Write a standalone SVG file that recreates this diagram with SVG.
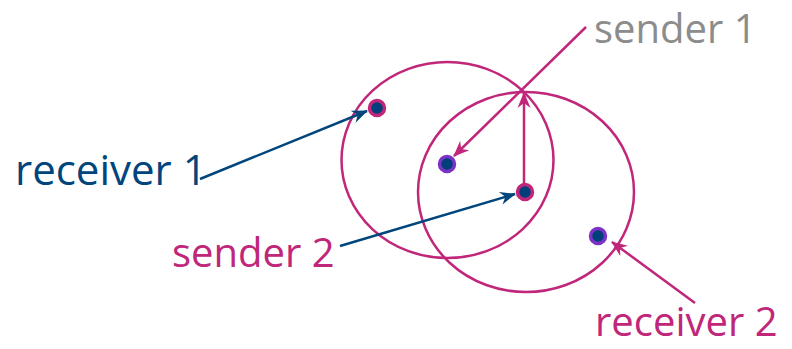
<svg xmlns="http://www.w3.org/2000/svg" width="792" height="349" viewBox="0 0 792 349">
<style>
.range{fill:none;stroke:#c0267a;stroke-width:2.5}
.dot{fill:#003f7a;stroke-width:3.5}
.mg{stroke:#c0267a}
.pu{stroke:#7b33c6}
.lbl{font-family:"Open Sans","Noto Sans",sans-serif;font-size:40px}
.big{font-size:42px}
.cm{fill:none;stroke:#c0267a;stroke-width:2.5}
.cb{fill:none;stroke:#00457c;stroke-width:2.5}
</style>
<defs>
<marker id="am" viewBox="-17 -8 19 16" refX="0" refY="0" markerWidth="19" markerHeight="16" markerUnits="userSpaceOnUse" orient="auto" overflow="visible">
<path d="M1,0 L-15,-6.5 L-10,0 L-15,6.5 Z" fill="#c0267a"/>
</marker>
<marker id="ab" viewBox="-17 -8 19 16" refX="0" refY="0" markerWidth="19" markerHeight="16" markerUnits="userSpaceOnUse" orient="auto" overflow="visible">
<path d="M1,0 L-15,-6.5 L-10,0 L-15,6.5 Z" fill="#00457c"/>
</marker>
</defs>
<g id="range1"><ellipse class="range" cx="447.5" cy="160" rx="106" ry="98"/></g>
<g id="range2"><ellipse class="range" cx="526" cy="192" rx="108" ry="100"/></g>
<g id="connectors">
<line class="cb" x1="200" y1="179" x2="367" y2="111" marker-end="url(#ab)"/>
<line class="cm" x1="586" y1="27" x2="454" y2="156" marker-end="url(#am)"/>
<line class="cm" x1="524" y1="185" x2="524" y2="93" marker-end="url(#am)"/>
<line class="cb" x1="340" y1="246" x2="515" y2="194" marker-end="url(#ab)"/>
<line class="cm" x1="695" y1="303" x2="612" y2="242" marker-end="url(#am)"/>
</g>
<g id="receiver1-node"><circle class="dot mg" cx="377" cy="108" r="7.5"/></g>
<g id="mid-node"><circle class="dot pu" cx="447" cy="164" r="7.5"/></g>
<g id="sender2-node"><circle class="dot mg" cx="525" cy="192" r="7.5"/></g>
<g id="receiver2-node"><circle class="dot pu" cx="598" cy="236" r="7.5"/></g>
<g id="label-sender1"><text class="lbl" x="594" y="43" fill="#8c8c8c">sender 1</text></g>
<g id="label-receiver1"><text class="lbl big" x="15" y="185" fill="#00457c">receiver 1</text></g>
<g id="label-sender2"><text class="lbl" x="172" y="267" fill="#c0267a">sender 2</text></g>
<g id="label-receiver2"><text class="lbl" x="595" y="336" fill="#c0267a" font-size="41">receiver 2</text></g>
</svg>
